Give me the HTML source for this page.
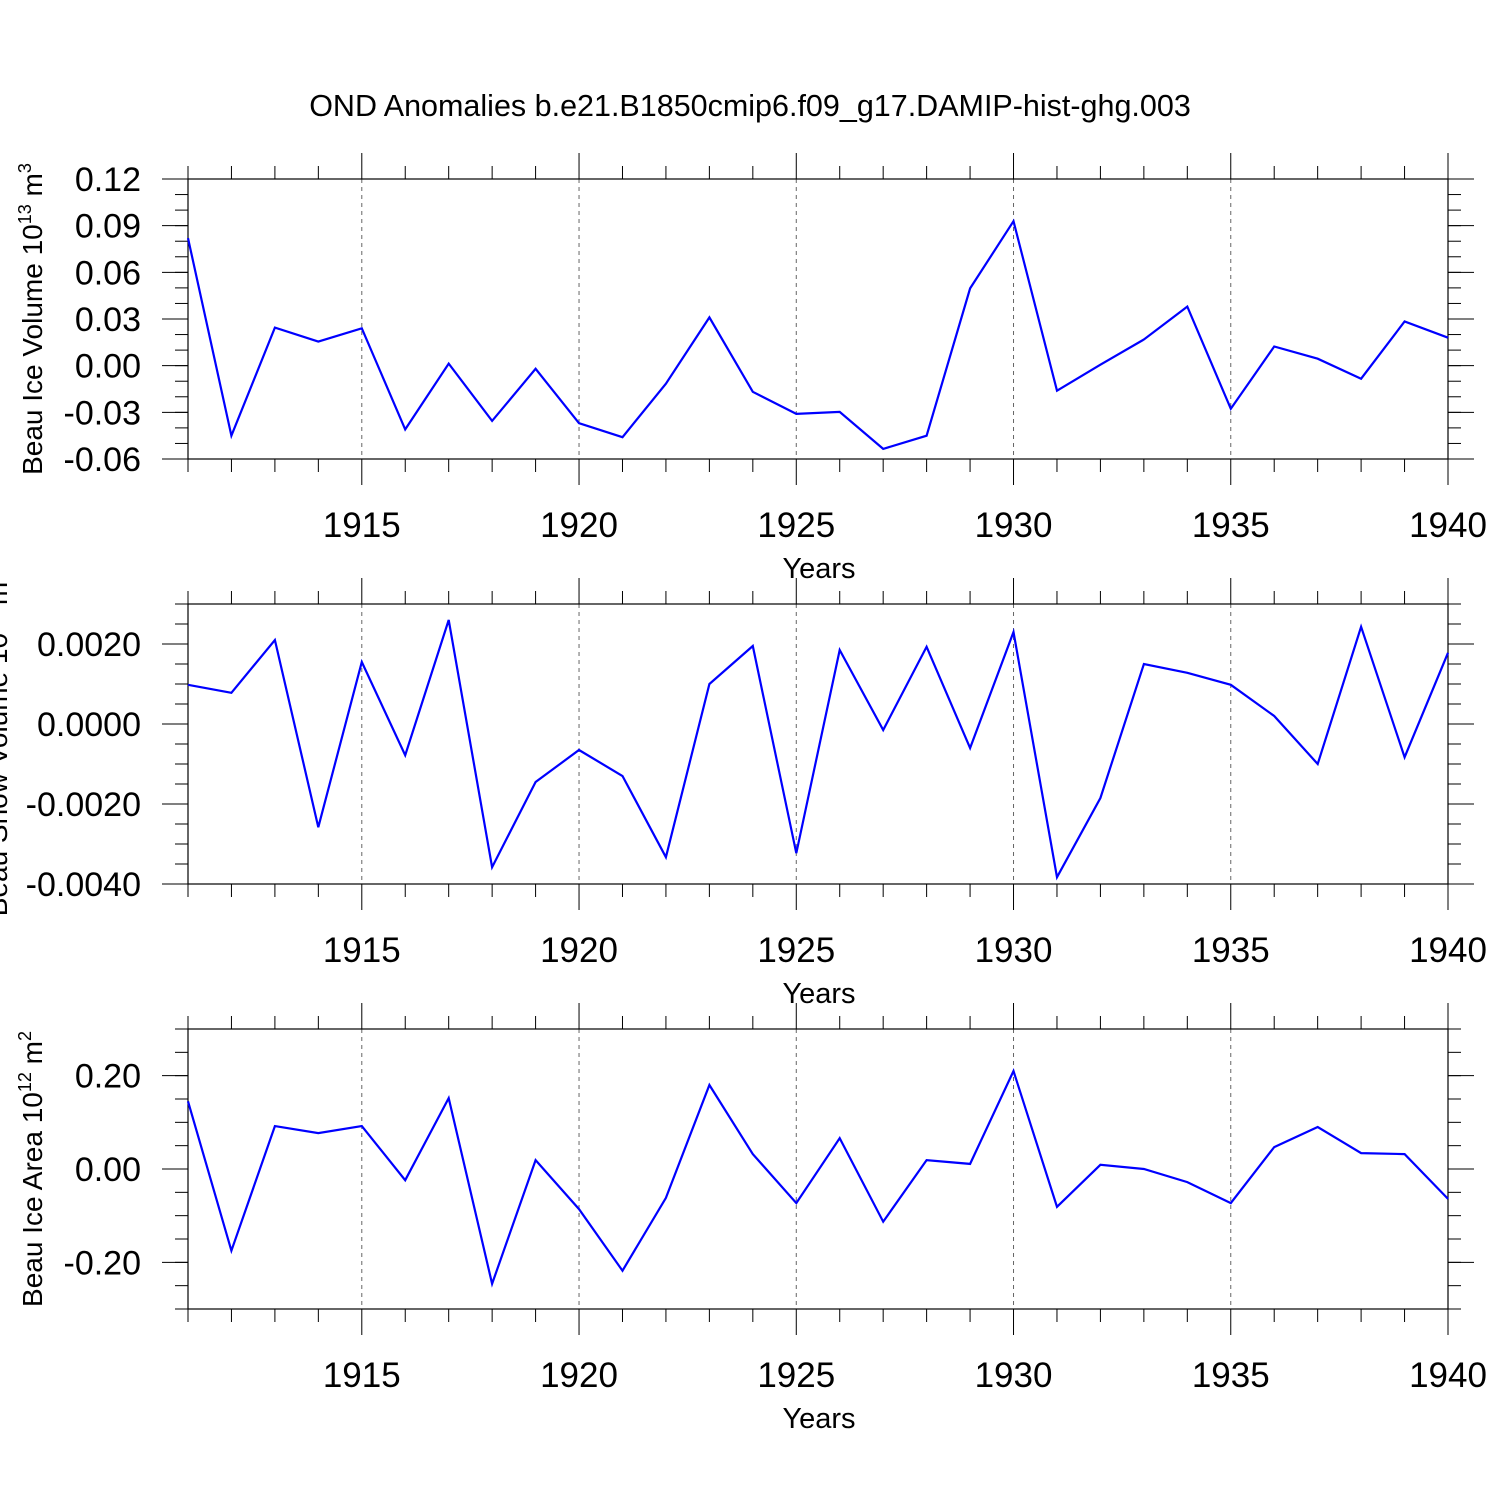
<!DOCTYPE html>
<html><head><meta charset="utf-8"><style>
html,body{margin:0;padding:0;background:#fff;}
svg{display:block;font-family:"Liberation Sans",Arial,sans-serif;}
</style></head><body>
<svg id="chart" width="1500" height="1500" viewBox="0 0 1500 1500">
<text x="750" y="116" text-anchor="middle" font-size="30.5">OND Anomalies b.e21.B1850cmip6.f09_g17.DAMIP-hist-ghg.003</text>
</svg>
<script>
const years = [1911,1912,1913,1914,1915,1916,1917,1918,1919,1920,1921,1922,1923,1924,1925,1926,1927,1928,1929,1930,1931,1932,1933,1934,1935,1936,1937,1938,1939,1940];
const iceVolume = [0.082,-0.045,0.0245,0.0155,0.024,-0.041,0.0013,-0.0355,-0.002,-0.037,-0.046,-0.0116,0.031,-0.0168,-0.031,-0.0297,-0.0535,-0.045,0.0497,0.0929,-0.0161,0.0006,0.0168,0.038,-0.0277,0.0123,0.0045,-0.0084,0.0284,0.018];
const snowVolume = [0.00098,0.00078,0.0021,-0.00258,0.00155,-0.00078,0.0026,-0.00358,-0.00145,-0.00065,-0.0013,-0.00333,0.001,0.00195,-0.00323,0.00185,-0.00015,0.00193,-0.0006,0.0023,-0.00383,-0.00185,0.0015,0.00128,0.00098,0.0002,-0.001,0.00243,-0.00083,0.00178];
const iceArea = [0.145,-0.175,0.092,0.077,0.092,-0.024,0.152,-0.246,0.019,-0.086,-0.218,-0.062,0.18,0.032,-0.073,0.066,-0.113,0.019,0.011,0.21,-0.081,0.009,0.0,-0.028,-0.073,0.047,0.09,0.034,0.032,-0.064];
const xTickYears = [1915,1920,1925,1930,1935,1940];
const ticks1 = [0.12,0.09,0.06,0.03,0.00,-0.03,-0.06];
const ticks1Labels = ["0.12","0.09","0.06","0.03","0.00","-0.03","-0.06"];
const ticks2 = [0.002,0,-0.002,-0.004];
const ticks2Labels = ["0.0020","0.0000","-0.0020","-0.0040"];
const ticks3 = [0.2,0,-0.2];
const ticks3Labels = ["0.20","0.00","-0.20"];

const svg = document.getElementById('chart');
const NS = 'http://www.w3.org/2000/svg';
function mk(tag, attrs, parent){const e=document.createElementNS(NS,tag);for(const k in attrs)e.setAttribute(k,attrs[k]);(parent||svg).appendChild(e);return e;}
const X0=188, X1=1448;
function xs(yr){return X0+(yr-1911)*(X1-X0)/(1940-1911);}

function panel(id, top, ymin, ymax, data, ticks, labels, minorStep, title, supA, supB, titleX){
  const bot=top+280;
  const ys=v=>bot-(v-ymin)/(ymax-ymin)*280;
  const g=mk('g',{});
  
  
  xTickYears.forEach(yr=>{ if(yr<1940){const l=mk('line',{x1:xs(yr),x2:xs(yr),y1:top,y2:bot,stroke:'#666','stroke-width':1,'stroke-dasharray':'4,4'},g);
    
    }});
  years.forEach(yr=>{const major=xTickYears.includes(yr);const len=major?26:13;
    mk('line',{x1:xs(yr),x2:xs(yr),y1:bot,y2:bot+len,stroke:'#000','stroke-width':1},g);
    mk('line',{x1:xs(yr),x2:xs(yr),y1:top,y2:top-len,stroke:'#000','stroke-width':1},g);});
  xTickYears.forEach(yr=>{const t=mk('text',{x:xs(yr),y:bot+78,'text-anchor':'middle','font-size':35},g);t.textContent=yr;
    
    });
  const xt=mk('text',{x:819,y:bot+119,'text-anchor':'middle','font-size':29},g);xt.textContent='Years';
  
  
  const n=Math.round((ymax-ymin)/minorStep);
  for(let i=0;i<=n;i++){const v=ymin+i*minorStep;const y=ys(v);
    mk('line',{x1:X0,x2:X0-13,y1:y,y2:y,stroke:'#000','stroke-width':1},g);
    mk('line',{x1:X1,x2:X1+13,y1:y,y2:y,stroke:'#000','stroke-width':1},g);}
  ticks.forEach((v,i)=>{const y=ys(v);
    mk('line',{x1:X0,x2:X0-26,y1:y,y2:y,stroke:'#000','stroke-width':1},g);
    mk('line',{x1:X1,x2:X1+26,y1:y,y2:y,stroke:'#000','stroke-width':1},g);
    const t=mk('text',{x:141,y:y+12,'text-anchor':'end','font-size':34},g);t.textContent=labels[i];
    
    });
  mk('rect',{x:X0,y:top,width:X1-X0,height:280,fill:'none',stroke:'#000','stroke-width':1.2},g);
  const pts=data.map((v,i)=>xs(years[i]).toFixed(1)+','+ys(v).toFixed(1)).join(' ');
  const pl=mk('polyline',{points:pts,fill:'none',stroke:'#0000ff','stroke-width':2.2,'stroke-linejoin':'miter'},g);
  
  
  const cy=top+140;
  const yt=mk('text',{x:0,y:0,'text-anchor':'middle','font-size':28,transform:`translate(${titleX},${cy}) rotate(-90)`},g);
  yt.innerHTML=title+'<tspan dy="-11" font-size="18">'+supA+'</tspan><tspan dy="11"> m</tspan><tspan dy="-11" font-size="18">'+supB+'</tspan>';
  
  
}
panel('ice-volume',179,-0.06,0.12,iceVolume,ticks1,ticks1Labels,0.01,'Beau Ice Volume 10','13','3',42);
panel('snow-volume',604,-0.004,0.003,snowVolume,ticks2,ticks2Labels,0.0005,'Beau Snow Volume 10','13','3',7);
panel('ice-area',1029,-0.3,0.3,iceArea,ticks3,ticks3Labels,0.05,'Beau Ice Area 10','12','2',42);
</script>
</body></html>
